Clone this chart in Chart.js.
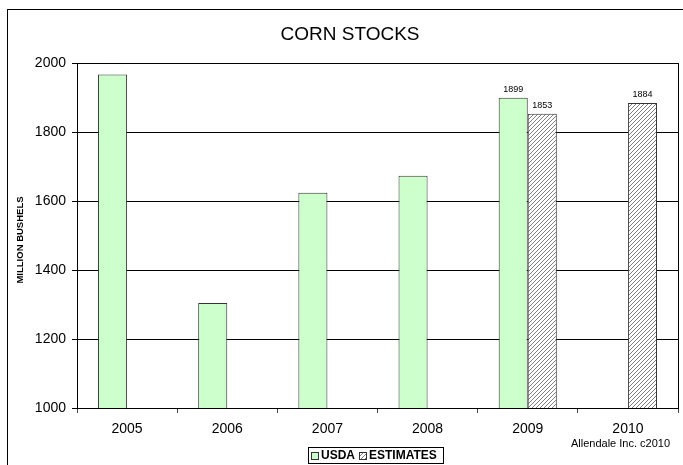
<!DOCTYPE html>
<html>
<head>
<meta charset="utf-8">
<script src="https://cdn.jsdelivr.net/npm/chart.js@4"></script>
<style>
  html, body { margin: 0; padding: 0; background: #fff; }
  #wrap { width: 683px; height: 465px; position: relative; }
</style>
</head>
<body>
<div id="wrap"><canvas id="chart" width="683" height="465"></canvas></div>
<script>
// data
const years = ["2005", "2006", "2007", "2008", "2009", "2010"];
const usda = [1967, 1304, 1624, 1673, 1899, null];
const estimates = [null, null, null, null, 1853, 1884];
// which bars get a value label on top
const usdaLabelled = [false, false, false, false, true, false];
const estLabelled = [false, false, false, false, true, true];
const yTicks = [1000, 1200, 1400, 1600, 1800, 2000];

const FONT = "'Liberation Sans', Arial, sans-serif";

// diagonal hatch for the estimate bars
function makeHatch() {
  const c = document.createElement("canvas");
  c.width = 4;
  c.height = 4;
  const g = c.getContext("2d");
  g.fillStyle = "#fff";
  g.fillRect(0, 0, 4, 4);
  g.strokeStyle = "#808080";
  g.lineWidth = 1;
  g.beginPath();
  g.moveTo(0, 4); g.lineTo(4, 0);
  g.moveTo(-1, 1); g.lineTo(1, -1);
  g.moveTo(3, 5); g.lineTo(5, 3);
  g.stroke();
  return g.createPattern(c, "repeat");
}

const ctx = document.getElementById("chart").getContext("2d");
const hatch = makeHatch();

// frame, plot border, title, axis title, legend, credit, labels
const extras = {
  id: "extras",
  beforeDraw(chart) {
    const c = chart.ctx;
    c.save();
    c.fillStyle = "#fff";
    c.fillRect(0, 0, chart.width, chart.height);
    c.strokeStyle = "#000";
    c.lineWidth = 1;
    c.strokeRect(7.5, 9.5, 700, 500);
    c.restore();
  },
  beforeDatasetsDraw(chart) {
    const a = chart.chartArea;
    const c = chart.ctx;
    c.save();
    c.strokeStyle = "#000";
    c.lineWidth = 1;
    c.strokeRect(Math.round(a.left) + 0.5, Math.round(a.top) + 0.5,
      Math.round(a.right - a.left), Math.round(a.bottom - a.top));
    c.restore();
  },
  afterDatasetsDraw(chart) {
    const c = chart.ctx;
    c.save();
    c.fillStyle = "#000";
    c.font = "9px " + FONT;
    c.textAlign = "center";
    c.textBaseline = "bottom";
    [usdaLabelled, estLabelled].forEach((flags, di) => {
      const meta = chart.getDatasetMeta(di);
      const vals = chart.data.datasets[di].data;
      meta.data.forEach((bar, i) => {
        if (flags[i] && vals[i] != null) {
          c.fillText(String(vals[i]), bar.x, bar.y - 4);
        }
      });
    });

    // title
    c.font = "19px " + FONT;
    c.textBaseline = "middle";
    c.fillText("CORN STOCKS", 350, 35);

    // y axis title
    c.save();
    c.translate(20, 240);
    c.rotate(-Math.PI / 2);
    c.font = "bold 9.5px " + FONT;
    c.fillText("MILLION BUSHELS", 0, 0);
    c.restore();

    // credit
    c.font = "11px " + FONT;
    c.textAlign = "right";
    c.fillText("Allendale Inc. c2010", 670, 444);

    // legend
    const lx = 308, ly = 447, lw = 135, lh = 16;
    c.strokeStyle = "#000";
    c.lineWidth = 1;
    c.strokeRect(lx + 0.5, ly + 0.5, lw, lh);
    c.font = "bold 12px " + FONT;
    c.textAlign = "left";
    const cy = ly + lh / 2 + 1;
    let x = lx + 3;
    c.fillStyle = "#ccffcc";
    c.fillRect(x, cy - 4, 8, 8);
    c.strokeStyle = "#333";
    c.strokeRect(x + 0.5, cy - 4 + 0.5, 7, 7);
    x += 10;
    c.fillStyle = "#000";
    c.fillText("USDA", x, cy);
    x += c.measureText("USDA").width + 4;
    c.fillStyle = hatch;
    c.fillRect(x, cy - 4, 8, 8);
    c.strokeRect(x + 0.5, cy - 4 + 0.5, 7, 7);
    x += 10;
    c.fillStyle = "#000";
    c.fillText("ESTIMATES", x, cy);
    c.restore();
  }
};

new Chart(ctx, {
  type: "bar",
  data: {
    labels: years,
    datasets: [
      {
        label: "USDA",
        data: usda,
        backgroundColor: "#ccffcc",
        borderColor: "#333",
        borderWidth: 1,
        borderSkipped: "bottom"
      },
      {
        label: "ESTIMATES",
        data: estimates,
        backgroundColor: hatch,
        borderColor: "#333",
        borderWidth: 1,
        borderSkipped: "bottom"
      }
    ]
  },
  options: {
    responsive: false,
    animation: false,
    events: [],
    categoryPercentage: 0.58,
    barPercentage: 1.0,
    layout: { padding: { top: 63, right: 5, bottom: 0, left: 0 } },
    plugins: {
      legend: { display: false },
      title: { display: false },
      tooltip: { enabled: false }
    },
    scales: {
      x: {
        offset: true,
        afterFit(scale) { scale.height = 57; },
        grid: {
          offset: true,
          drawOnChartArea: false,
          drawTicks: true,
          tickLength: 5,
          color: "#444"
        },
        border: { display: true, color: "#000" },
        ticks: {
          color: "#000",
          padding: 8,
          font: { family: FONT, size: 14 }
        }
      },
      y: {
        min: 1000,
        max: 2000,
        afterFit(scale) { scale.width = 77; },
        afterBuildTicks(scale) {
          scale.ticks = yTicks.map(v => ({ value: v }));
        },
        grid: {
          color: "#000",
          lineWidth: 1,
          drawTicks: true,
          tickLength: 5
        },
        border: { display: true, color: "#000" },
        ticks: {
          color: "#000",
          padding: 6,
          font: { family: FONT, size: 14 },
          callback: (v) => String(v)
        }
      }
    }
  },
  plugins: [extras]
});
</script>
</body>
</html>
